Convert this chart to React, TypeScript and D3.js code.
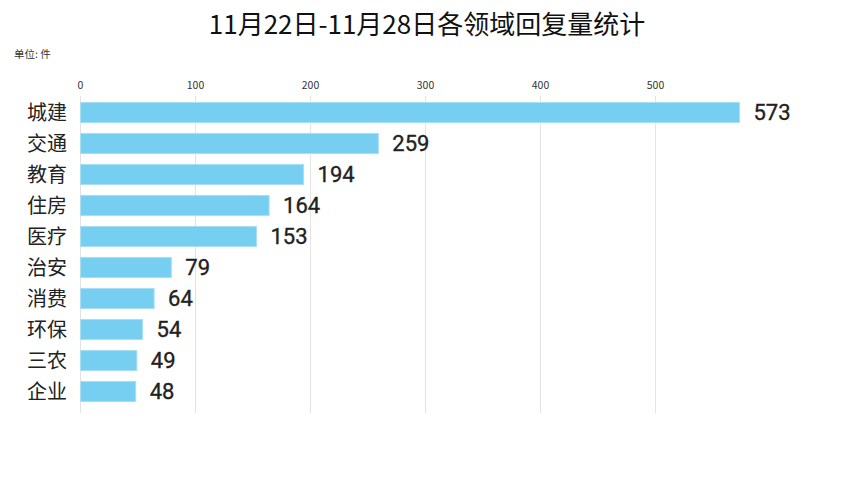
import React from "react";
import * as d3 from "d3";

const categories = ["城建", "交通", "教育", "住房", "医疗", "治安", "消费", "环保", "三农", "企业"];
const values = [573, 259, 194, 164, 153, 79, 64, 54, 49, 48];
const tickValues = [0, 100, 200, 300, 400, 500];
const title = "11月22日-11月28日各领域回复量统计";
const unitLabel = "单位: 件";

const W = 854;
const H = 480;
const FONT = "'Noto Sans CJK SC', 'Noto Sans', sans-serif";
const NUMFONT = "Roboto, 'Noto Sans', sans-serif";

export default function App() {
  const x = d3.scaleLinear().domain([0, 100]).range([80.5, 195.5]);
  const y = d3.scaleBand<string>().domain(categories).range([97, 407]).paddingInner(0.35).paddingOuter(0.175);

  return (
    <svg width={W} height={H} style={{ position: "absolute", left: 0, top: 0, background: "#fff" }}>
      <text x={427} y={34} textAnchor="middle" fontFamily={FONT} fontSize={26} fill="#111">
        {title}
      </text>
      <text x={14} y={58} fontFamily={FONT} fontSize={10.5} fill="#333">
        {unitLabel}
      </text>
      {tickValues.map((t) => (
        <g key={t}>
          <line x1={x(t)} x2={x(t)} y1={96} y2={413} stroke="#e3e3e3" strokeWidth={1} />
          <text x={x(t)} y={89} textAnchor="middle" fontFamily={FONT} fontSize={10.5} fill="#333">
            {t}
          </text>
        </g>
      ))}
      {categories.map((c, i) => {
        const by = y(c)!;
        const bh = y.bandwidth();
        const cy = by + bh / 2;
        return (
          <g key={c}>
            <rect
              x={x(0)}
              y={by}
              width={x(values[i]) - x(0)}
              height={bh}
              fill="#76cff0"
              stroke="#a9def3"
              strokeWidth={1}
            />
            <text x={67} y={cy} dy="0.36em" textAnchor="end" fontFamily={FONT} fontSize={20} fill="#222">
              {c}
            </text>
            <text
              x={x(values[i]) + 14}
              y={cy}
              dy="0.36em"
              fontFamily={NUMFONT}
              fontSize={22}
              fontWeight={400}
              fill="#222"
              stroke="#222"
              strokeWidth={0.35}
            >
              {values[i]}
            </text>
          </g>
        );
      })}
    </svg>
  );
}
